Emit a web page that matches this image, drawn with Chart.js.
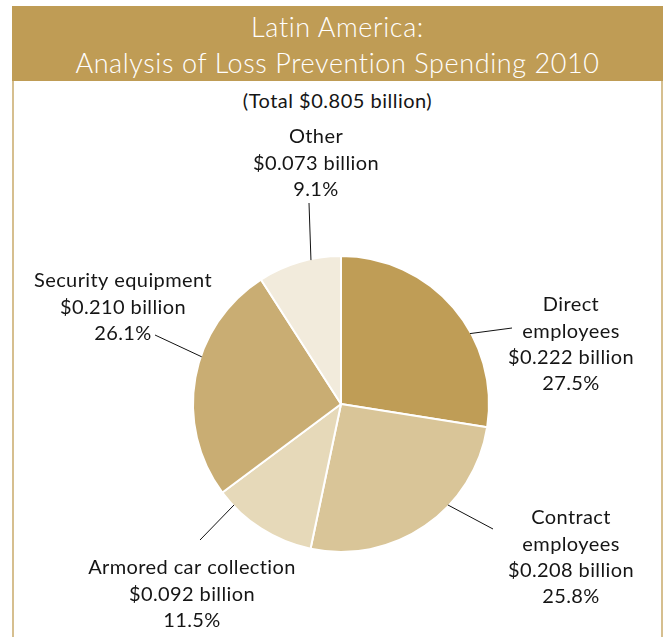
<!DOCTYPE html>
<html>
<head>
<meta charset="utf-8">
<script src="https://cdn.jsdelivr.net/npm/chart.js@4"></script>
<style>
  html, body { margin: 0; padding: 0; background: #fff; }
  body { width: 663px; height: 637px; position: relative; overflow: hidden; font-family: Lato, sans-serif; }
  .frame {
    position: absolute; left: 12px; top: 6px; width: 647px; height: 640px;
    border-left: 2px solid #d6bf8f; border-right: 2px solid #d6bf8f;
  }
  .band {
    position: absolute; left: 12px; top: 6px; width: 651px; height: 75px;
    background: #bf9c55; color: #fff; text-align: center;
    font-weight: 300; font-size: 27px; line-height: 36px; letter-spacing: 0.6px;
    padding-top: 3px; box-sizing: border-box;
  }
  .sub {
    position: absolute; left: 12px; width: 651px; top: 88px;
    text-align: center; font-size: 20px; letter-spacing: 0.5px; color: #151515;
  }
  #wrap { position: absolute; left: 0; top: 0; width: 663px; height: 637px; }
</style>
</head>
<body>
<div class="frame"></div>
<div class="band">Latin America:<br>Analysis of Loss Prevention Spending 2010</div>
<div class="sub">(Total $0.805 billion)</div>
<div id="wrap"><canvas id="pieChart" width="663" height="637"></canvas></div>

<script>
// Spending categories, clockwise from 12 o'clock
const categories = [
    ['Direct', 'employees'],
    ['Contract', 'employees'],
    ['Armored car collection'],
    ['Security equipment'],
    ['Other']
];
const billions = [0.222, 0.208, 0.092, 0.210, 0.073];
const shares = [27.5, 25.8, 11.5, 26.1, 9.1];
const sliceColors = ['#bf9d56', '#d9c598', '#e6d9b9', '#c9ad73', '#f2ebdc'];

// Callout placement: where the leader leaves the slice (fraction of its sweep),
// where the leader ends, and where the text block is centred
const callouts = [
    { at: 0.62, end: [512, 328], text: [571, 305] },
    { at: 0.37, end: [493, 529], text: [571, 518] },
    { at: 0.84, end: [200, 540], text: [192, 568] },
    { at: 0.59, end: [155, 335], text: [123, 281] },
    { at: 0.64, end: [309, 203], text: [316, 137] }
];

const calloutPlugin = {
    id: 'callouts',
    afterDatasetsDraw(chart) {
        const ctx = chart.ctx;
        const arcs = chart.getDatasetMeta(0).data;
        ctx.save();
        arcs.forEach(function (arc, i) {
            const c = callouts[i];
            const p = arc.getProps(['x', 'y', 'startAngle', 'endAngle', 'outerRadius'], true);
            const a = p.startAngle + (p.endAngle - p.startAngle) * c.at;
            const sx = p.x + Math.cos(a) * (p.outerRadius - 1);
            const sy = p.y + Math.sin(a) * (p.outerRadius - 1);
            ctx.strokeStyle = '#111';
            ctx.lineWidth = 1;
            ctx.beginPath();
            ctx.moveTo(sx, sy);
            ctx.lineTo(c.end[0], c.end[1]);
            ctx.stroke();

            const lines = categories[i].concat([
                '$' + billions[i].toFixed(3) + ' billion',
                shares[i].toFixed(1) + '%'
            ]);
            ctx.fillStyle = '#151515';
            ctx.font = "20px Lato, sans-serif";
            ctx.letterSpacing = '0.4px';
            ctx.textAlign = 'center';
            ctx.textBaseline = 'middle';
            lines.forEach(function (t, k) {
                ctx.fillText(t, c.text[0], c.text[1] + k * 26.3);
            });
        });
        ctx.restore();
    }
};

new Chart(document.getElementById('pieChart'), {
    type: 'pie',
    data: {
        labels: categories.map(function (c) { return c.join(' '); }),
        datasets: [{
            data: shares,
            backgroundColor: sliceColors,
            borderColor: '#ffffff',
            borderWidth: 2
        }]
    },
    options: {
        responsive: false,
        animation: false,
        layout: { padding: { left: 192, right: 173, top: 255, bottom: 84 } },
        plugins: {
            legend: { display: false },
            tooltip: { enabled: false }
        }
    },
    plugins: [calloutPlugin]
});
</script>
</body>
</html>
